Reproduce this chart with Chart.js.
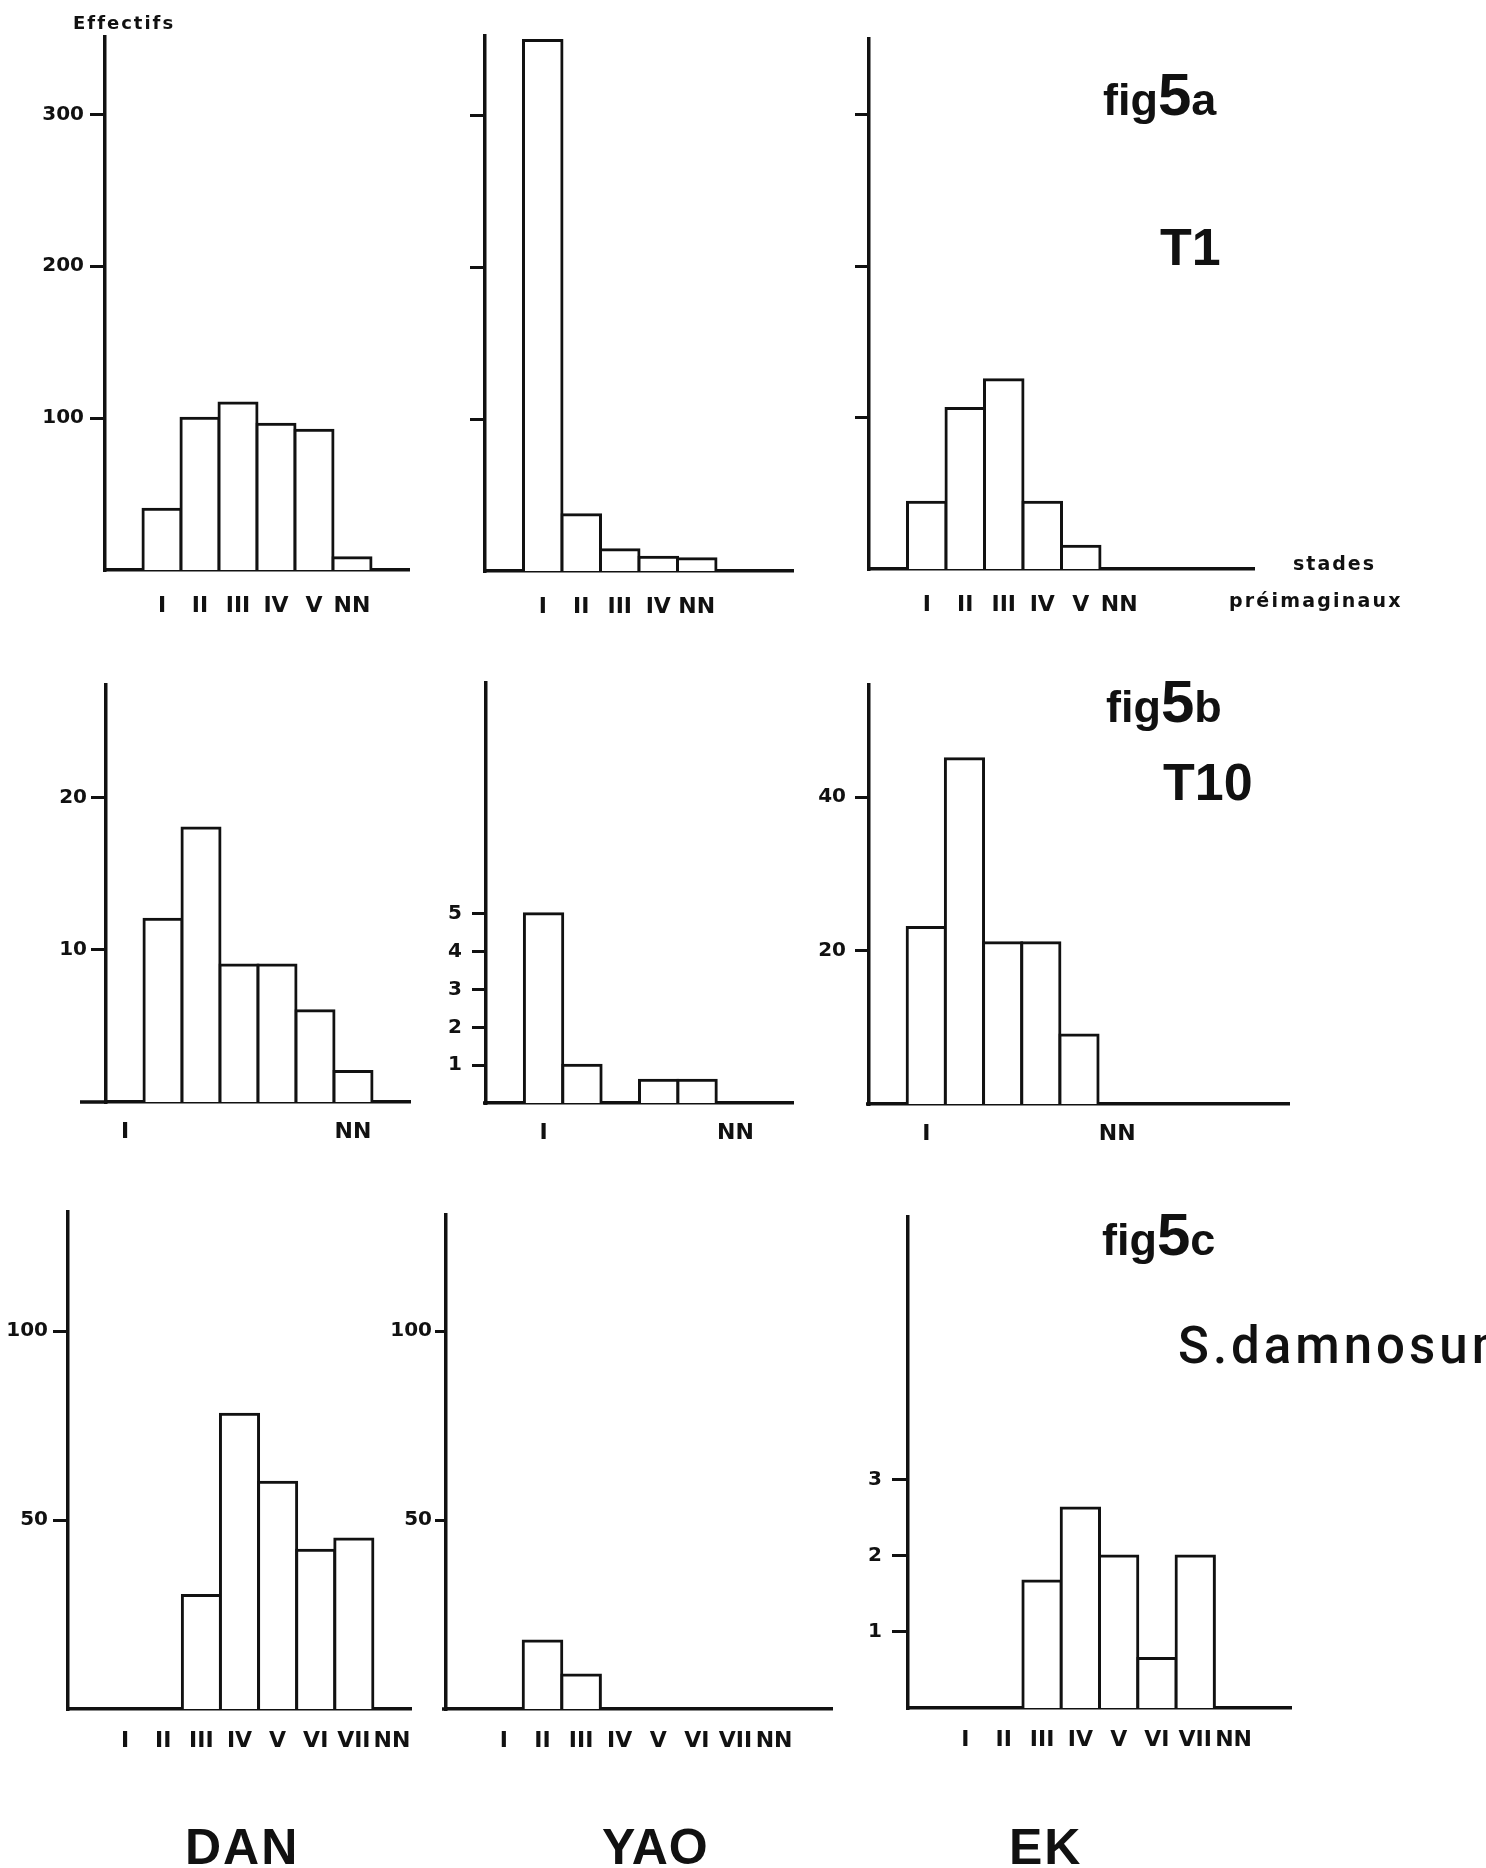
<!DOCTYPE html>
<html><head><meta charset="utf-8">
<script src="https://cdn.jsdelivr.net/npm/chart.js@4.4.1/dist/chart.umd.min.js"></script>
<style>
html,body{margin:0;padding:0;background:#fff;}
#page{position:relative;width:1486px;height:1868px;overflow:hidden;background:#fff;}
#page canvas{position:absolute;}
#page svg{position:absolute;left:0;top:0;}
</style></head>
<body><div id="page"></div>
<script>
// ---------- DATA ----------
// fig 5a  (T1)
const stagesDanT1 = ['', 'I', 'II', 'III', 'IV', 'V', 'NN', ''];
const danT1 = [null, 40, 100, 110, 96, 92, 8, null];
const stagesYaoT1 = ['', 'I', 'II', 'III', 'IV', 'NN', '', ''];
const yaoT1 = [null, 349, 37, 14, 9, 8, null, null];
const stagesEkT1 = ['', 'I', 'II', 'III', 'IV', 'V', 'NN', '', '', ''];
const ekT1 = [null, 44, 106, 125, 44, 15, 0, null, null, null];
const ticksT1 = [100, 200, 300];

// fig 5b  (T10)
const stagesDanT10 = ['I', '', '', '', '', '', 'NN', ''];
const danT10 = [null, 12, 18, 9, 9, 6, 2, null];
const ticksDanT10 = [10, 20];
const stagesYaoT10 = ['', 'I', '', '', '', '', 'NN', ''];
const yaoT10 = [null, 5, 1, 0, 0.6, 0.6, null, null];
const ticksYaoT10 = [1, 2, 3, 4, 5];
const stagesEkT10 = ['', 'I', '', '', '', '', 'NN', '', '', '', ''];
const ekT10 = [null, 23, 45, 21, 21, 9, null, null, null, null, null];
const ticksEkT10 = [20, 40];

// fig 5c  (S. damnosum)
const stagesDanSd = ['', 'I', 'II', 'III', 'IV', 'V', 'VI', 'VII', 'NN'];
const danSd = [null, 0, 0, 30, 78, 60, 42, 45, 0];
const stagesSd = ['', 'I', 'II', 'III', 'IV', 'V', 'VI', 'VII', 'NN', ''];
const yaoSd = [null, 0, 18, 9, 0, 0, 0, 0, 0, null];
const ekSd = [null, 0, 0, 1.67, 2.63, 2, 0.65, 2, 0, null];
const ticksSd = [50, 100];
const ticksEkSd = [1, 2, 3];

// ---------- LAYOUT (pixel geometry of each panel) ----------
const panels = [
  {labels: stagesDanT1,  data: danT1,  ticks: ticksT1,     showY: true,  max: 351,  ax: 105, right: 409,  top: 37,   bottom: 570,  tl: 15, tp: 6,  xp: 23, ext: 0},
  {labels: stagesYaoT1,  data: yaoT1,  ticks: ticksT1,     showY: false, max: 352,  ax: 485, right: 793,  top: 36,   bottom: 571,  tl: 15, tp: 6,  xp: 23, ext: 0},
  {labels: stagesEkT1,   data: ekT1,   ticks: ticksT1,     showY: false, max: 350,  ax: 869, right: 1254, top: 39,   bottom: 569,  tl: 14, tp: 6,  xp: 23, ext: 0},
  {labels: stagesDanT10, data: danT10, ticks: ticksDanT10, showY: true,  max: 27.4, ax: 106, right: 410,  top: 685,  bottom: 1102, tl: 15, tp: 4,  xp: 17, ext: 26},
  {labels: stagesYaoT10, data: yaoT10, ticks: ticksYaoT10, showY: true,  max: 11.1, ax: 486, right: 793,  top: 683,  bottom: 1103, tl: 14, tp: 10, xp: 17, ext: 3},
  {labels: stagesEkT10,  data: ekT10,  ticks: ticksEkT10,  showY: true,  max: 54.6, ax: 869, right: 1289, top: 685,  bottom: 1104, tl: 14, tp: 9,  xp: 17, ext: 3},
  {labels: stagesDanSd,  data: danSd,  ticks: ticksSd,     showY: true,  max: 131.5,ax: 68,  right: 411,  top: 1212, bottom: 1709, tl: 15, tp: 5,  xp: 19, ext: 0},
  {labels: stagesSd,     data: yaoSd,  ticks: ticksSd,     showY: true,  max: 130.7,ax: 446, right: 832,  top: 1215, bottom: 1709, tl: 11, tp: 3,  xp: 19, ext: 4},
  {labels: stagesSd,     data: ekSd,   ticks: ticksEkSd,   showY: true,  max: 6.46, ax: 908, right: 1291, top: 1217, bottom: 1708, tl: 16, tp: 10, xp: 19, ext: 0}
];

const INK = '#111';
const page = document.getElementById('page');

const baseExt = {
  id: 'baseExt',
  afterDraw(chart, args, opts) {
    const e = opts && opts.px;
    if (!e) return;
    const {ctx, chartArea} = chart;
    ctx.save();
    ctx.strokeStyle = INK;
    ctx.lineWidth = 3.5;
    ctx.beginPath();
    ctx.moveTo(chartArea.left - e, chartArea.bottom);
    ctx.lineTo(chartArea.left, chartArea.bottom);
    ctx.stroke();
    ctx.restore();
  }
};

panels.forEach(p => {
  const Wy = Math.min(80, p.ax);
  const padTop = 40, padRight = 40, Hx = 70;
  const cv = document.createElement('canvas');
  const w = Wy + (p.right - p.ax) + padRight;
  const h = padTop + (p.bottom - p.top) + Hx;
  cv.width = w; cv.height = h;
  cv.style.width = w + 'px'; cv.style.height = h + 'px';
  cv.style.left = (p.ax - Wy) + 'px';
  cv.style.top = (p.top - padTop) + 'px';
  page.appendChild(cv);

  new Chart(cv, {
    type: 'bar',
    data: {
      labels: p.labels,
      datasets: [{
        data: p.data,
        backgroundColor: '#fff',
        borderColor: INK,
        borderWidth: 3,
        borderSkipped: 'bottom',
        inflateAmount: 1.5,
        barPercentage: 1,
        categoryPercentage: 1
      }]
    },
    plugins: [baseExt],
    options: {
      responsive: false,
      animation: false,
      devicePixelRatio: 1,
      layout: {padding: {top: padTop, right: padRight, left: 0, bottom: 0}},
      plugins: {
        legend: {display: false},
        tooltip: {enabled: false},
        baseExt: {px: p.ext}
      },
      scales: {
        x: {
          z: 1,
          offset: true,
          grid: {display: false, drawTicks: false},
          border: {display: true, color: INK, width: 3.5},
          ticks: {
            autoSkip: false, maxRotation: 0, minRotation: 0,
            color: INK, padding: p.xp,
            font: {family: 'DejaVu Sans', weight: 'bold', size: 22}
          },
          afterFit(s) { s.height = Hx; }
        },
        y: {
          z: 1,
          min: 0,
          max: p.max,
          grid: {display: true, drawOnChartArea: false, drawTicks: true, tickLength: p.tl, color: INK, lineWidth: 3},
          border: {display: true, color: INK, width: 3.5},
          afterBuildTicks(s) { s.ticks = p.ticks.map(v => ({value: v})); },
          ticks: {
            color: INK, padding: p.tp,
            font: {family: 'DejaVu Sans', weight: 'bold', size: 20},
            callback: (v) => p.showY ? String(v) : ''
          },
          afterFit(s) { s.width = Wy; }
        }
      }
    }
  });
});

// ---------- annotation text (real SVG text) ----------
const svgNS = 'http://www.w3.org/2000/svg';
const svg = document.createElementNS(svgNS, 'svg');
svg.setAttribute('width', 1486); svg.setAttribute('height', 1868);
page.appendChild(svg);

function txt(x, y, parts, attrs) {
  const t = document.createElementNS(svgNS, 'text');
  t.setAttribute('x', x); t.setAttribute('y', y);
  t.setAttribute('fill', INK);
  Object.entries(attrs || {}).forEach(([k, v]) => t.setAttribute(k, v));
  parts.forEach(([s, size]) => {
    const ts = document.createElementNS(svgNS, 'tspan');
    if (size) ts.setAttribute('font-size', size);
    ts.textContent = s;
    t.appendChild(ts);
  });
  svg.appendChild(t);
}
const mono = {'font-family': 'DejaVu Sans', 'font-weight': 'bold'};
const helv = {'font-family': 'Liberation Sans, Arial, sans-serif', 'font-weight': 'bold'};

txt(73, 29, [['Effectifs', 18]], Object.assign({'letter-spacing': 2}, mono));
txt(1293, 570, [['stades', 19]], Object.assign({'letter-spacing': 2}, mono));
txt(1229, 607, [['préimaginaux', 19]], Object.assign({'letter-spacing': 2.2}, mono));

txt(1103, 115, [['fig', 45], ['5', 60], ['a', 45]], helv);
txt(1160, 265, [['T1', 52]], helv);
txt(1106, 722, [['fig', 45], ['5', 60], ['b', 45]], helv);
txt(1163, 800, [['T10', 52]], helv);
txt(1102, 1255, [['fig', 45], ['5', 60], ['c', 45]], helv);
txt(1178, 1363, [['S.damnosum', 51]], {'font-family': 'Roboto, Liberation Sans, sans-serif', 'font-weight': 500, 'letter-spacing': 4});

txt(185, 1864, [['DAN', 50]], Object.assign({'letter-spacing': 2}, helv));
txt(602, 1864, [['YAO', 50]], Object.assign({'letter-spacing': 1}, helv));
txt(1009, 1864, [['EK', 50]], Object.assign({'letter-spacing': 2}, helv));
</script>
</body></html>
